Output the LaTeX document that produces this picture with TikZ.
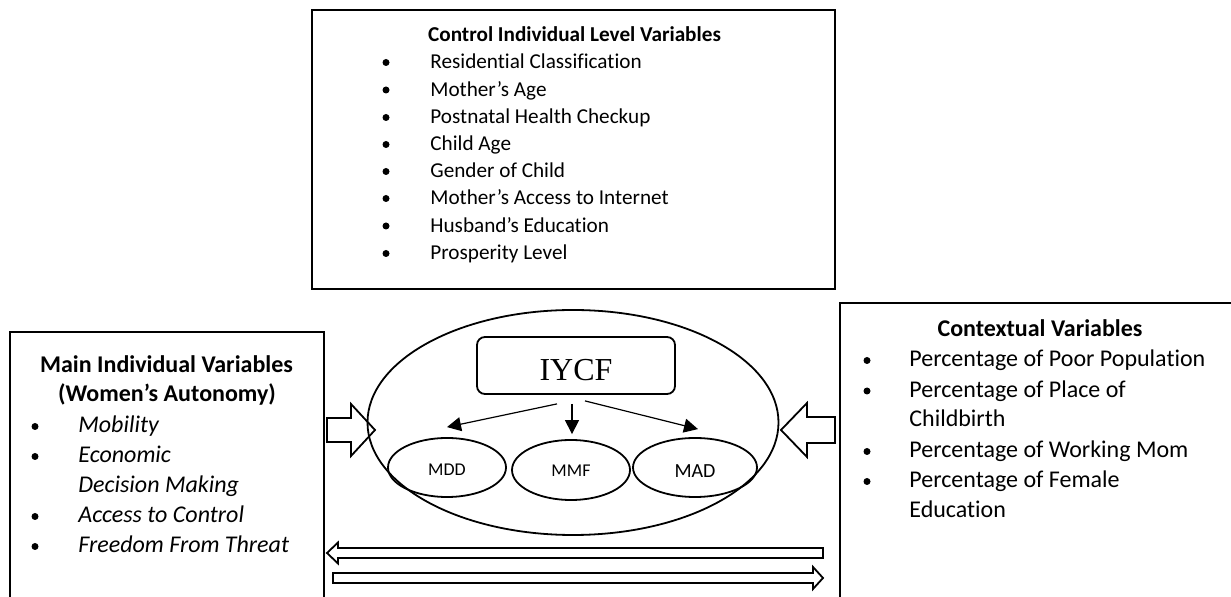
\documentclass[tikz,border=0pt]{standalone}
\usepackage{fontspec}
\setmainfont{Carlito}[Ligatures=NoCommon]
\newfontfamily\serifhead{Liberation Serif}
\usetikzlibrary{shapes.geometric,arrows.meta}

\tikzset{
  frame/.style={draw, line width=1.2pt, line join=miter},
  outline/.style={draw, line width=0.9pt},
  dot/.style={circle, fill, inner sep=0pt, minimum size=3.5pt},
  smallitem/.style={anchor=base west, inner sep=0pt, font=\fontsize{10.6}{12}\selectfont},
  bigitem/.style={anchor=base west, inner sep=0pt, font=\fontsize{12}{14}\selectfont},
  smalltitle/.style={anchor=base, inner sep=0pt, font=\bfseries\fontsize{10.6}{12}\selectfont},
  bigtitle/.style={anchor=base, inner sep=0pt, font=\bfseries\fontsize{12}{14}\selectfont},
  measure/.style={outline, ellipse, inner sep=0pt, text depth=0pt},
  pointer/.style={line width=0.6pt, -{Triangle[length=7pt,width=7pt]}},
  pics/hollowarrow/.style n args={4}{code={
    \draw[outline, line join=miter]
      (0,-#2) -- ({#1-#4},-#2) -- ({#1-#4},-#3) -- (#1,0)
      -- ({#1-#4},#3) -- ({#1-#4},#2) -- (0,#2) -- cycle;
  }},
}

% bulleted entry: name, bullet x, text x, baseline y, style, text
\newcommand\bulletentry[6]{%
  \node[dot] (#1-dot) at (#2,#4-6.5) {};
  \node[#5] (#1) at (#3,#4) {#6};}

\begin{document}
\begin{tikzpicture}[x=0.5pt,y=-0.5pt]
\useasboundingbox (0,0) rectangle (1231,597);

% ---- control variables box (top)
\node[frame, rectangle, minimum width=261.5pt, minimum height=139.5pt, inner sep=0pt]
  (control) at (573.5,149.5) {};
\node[smalltitle] (control-title) at (574.5,42) {Control Individual Level Variables};
\bulletentry{c1}{386}{430}{69}{smallitem}{Residential Classification}
\bulletentry{c2}{386}{430}{96.5}{smallitem}{Mother’s Age}
\bulletentry{c3}{386}{430}{124}{smallitem}{Postnatal Health Checkup}
\bulletentry{c4}{386}{430}{151}{smallitem}{Child Age}
\bulletentry{c5}{386}{430}{178}{smallitem}{Gender of Child}
\bulletentry{c6}{386}{430}{205}{smallitem}{Mother’s Access to Internet}
\bulletentry{c7}{386}{430}{232.5}{smallitem}{Husband’s Education}
\bulletentry{c8}{386}{430}{260}{smallitem}{Prosperity Level}

% ---- main individual variables box (left, open at the bottom)
\draw[frame] (10,597) -- (10,332) -- (324,332) -- (324,597);
\node[bigtitle] (main-title1) at (166.5,373) {Main Individual Variables};
\node[bigtitle] (main-title2) at (167,402) {(Women’s Autonomy)};
\bulletentry{m1}{35}{78}{433}{bigitem}{\itshape Mobility}
\bulletentry{m2}{35}{78}{463}{bigitem}{\itshape Economic}
\node[bigitem] (m2b) at (78,493) {\itshape Decision Making};
\bulletentry{m3}{35}{78}{523}{bigitem}{\itshape Access to Control}
\bulletentry{m4}{35}{78}{553}{bigitem}{\itshape Freedom From Threat}

% ---- contextual variables box (right, open at the bottom and right)
\draw[frame] (1231,303) -- (840,303) -- (840,597);
\node[bigtitle] (ctx-title) at (1040,337) {Contextual Variables};
\bulletentry{x1}{867}{909}{367}{bigitem}{Percentage of Poor Population}
\bulletentry{x2}{867}{909}{397.5}{bigitem}{Percentage of Place of}
\node[bigitem] (x2b) at (909,427) {Childbirth};
\bulletentry{x3}{867}{909}{458}{bigitem}{Percentage of Working Mom}
\bulletentry{x4}{867}{909}{488}{bigitem}{Percentage of Female}
\node[bigitem] (x4b) at (909,518) {Education};

% ---- central outcome cluster
\node[outline, ellipse, minimum width=205.5pt, minimum height=112.5pt, inner sep=0pt]
  (core) at (573,422.5) {};
\node[outline, rounded corners=4pt, minimum width=99pt, minimum height=28.5pt,
  inner sep=0pt, text height=15.5pt, text depth=0pt,
  font=\serifhead\fontsize{16}{18}\selectfont] (iycf) at (576,365.5) {IYCF};
\node[measure, minimum width=59pt, minimum height=29.5pt, text height=8.5pt,
  font=\fontsize{9}{10}\selectfont] (mdd) at (447,467.5) {MDD};
\node[measure, minimum width=59pt, minimum height=30pt, text height=7pt,
  font=\fontsize{9}{10}\selectfont] (mmf) at (571,470) {MMF};
\node[measure, minimum width=62pt, minimum height=29.5pt, text height=10.5pt,
  font=\fontsize{10}{11}\selectfont] (mad) at (695,467.5) {MAD};

\draw[pointer] ([xshift=-9.5pt,yshift=-4.5pt]iycf.south) -- ([yshift=5pt]mdd.north);
\draw[pointer] ([xshift=-2pt,yshift=-4.5pt]iycf.south) -- ([xshift=0.5pt,yshift=2.5pt]mmf.north);
\draw[pointer] ([xshift=4.5pt,yshift=-3pt]iycf.south) -- ([xshift=1.5pt,yshift=4pt]mad.north);

% ---- hollow block arrows
\pic (into-left) at (327,430) {hollowarrow={48}{12}{26}{24}};
\pic[xscale=-1] (into-right) at (835,430) {hollowarrow={54}{13}{27}{26}};
\pic[xscale=-1] (back) at (823,553) {hollowarrow={496}{5}{10.5}{11}};
\pic (forth) at (333,578) {hollowarrow={490}{5}{11}{10}};
\end{tikzpicture}
\end{document}
